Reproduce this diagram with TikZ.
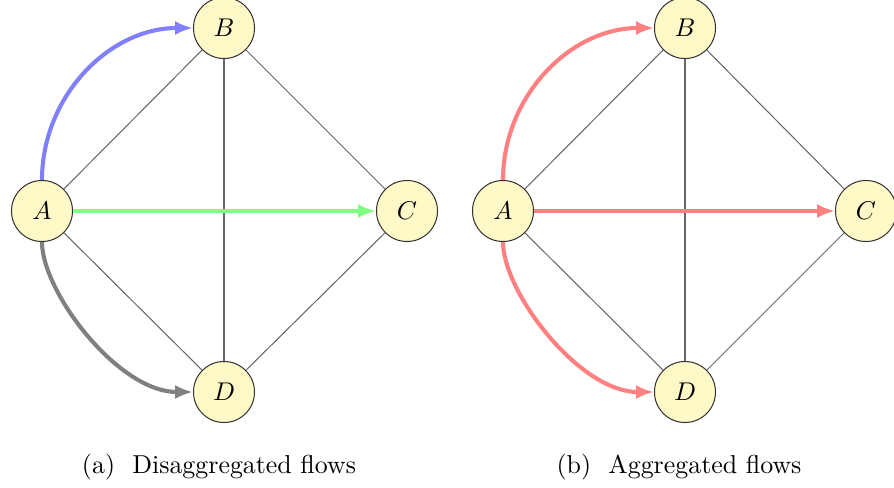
\documentclass[tikz,border=0pt]{standalone}
\usetikzlibrary{arrows.meta}
\definecolor{nodefill}{RGB}{255,249,200}
\definecolor{flowblue}{RGB}{128,128,255}
\definecolor{flowgreen}{RGB}{128,255,128}
\definecolor{flowgray}{RGB}{128,128,128}
\definecolor{flowred}{RGB}{255,128,128}
\tikzset{
  vert/.style={circle,draw=black!80,fill=nodefill,line width=0.4pt,minimum size=23.8pt,inner sep=0pt},
  link/.style={draw=black!60,line width=0.4pt},
  flow/.style={line width=1.6pt,-{Latex[length=7pt,width=5.5pt]}},
  upflow/.style={out=90,in=180},
  downflow/.style={out=-90,in=180,out looseness=0.6,in looseness=0.9},
  capt/.style={font=\fontsize{10.1}{12}\selectfont}
}
\begin{document}
\begin{tikzpicture}[x=0.39pt,y=-0.39pt]
\useasboundingbox (0,0) rectangle (894,488);
% left graph
\node[vert] (A1) at (42,211) {$A$};
\node[vert] (B1) at (224,28) {$B$};
\node[vert] (C1) at (407,211) {$C$};
\node[vert] (D1) at (224,392) {$D$};
\draw[link] (A1) -- (B1);
\draw[link] (A1) -- (D1);
\draw[link] (B1) -- (C1);
\draw[link] (C1) -- (D1);
\draw[link] (B1) -- (D1);
\draw[flow,flowblue] (A1) to[upflow] (B1);
\draw[flow,flowgreen] (A1) -- (C1);
\draw[flow,flowgray] (A1) to[downflow] (D1);
\node[capt] (capA) at (219,467) {(a)\ \ Disaggregated flows};
% right graph
\node[vert] (A2) at (503,211) {$A$};
\node[vert] (B2) at (685,28) {$B$};
\node[vert] (C2) at (866,211) {$C$};
\node[vert] (D2) at (685,392) {$D$};
\draw[link] (A2) -- (B2);
\draw[link] (A2) -- (D2);
\draw[link] (B2) -- (C2);
\draw[link] (C2) -- (D2);
\draw[link] (B2) -- (D2);
\draw[flow,flowred] (A2) to[upflow] (B2);
\draw[flow,flowred] (A2) -- (C2);
\draw[flow,flowred] (A2) to[downflow] (D2);
\node[capt] (capB) at (679,467) {(b)\ \ Aggregated flows};
\end{tikzpicture}
\end{document}
